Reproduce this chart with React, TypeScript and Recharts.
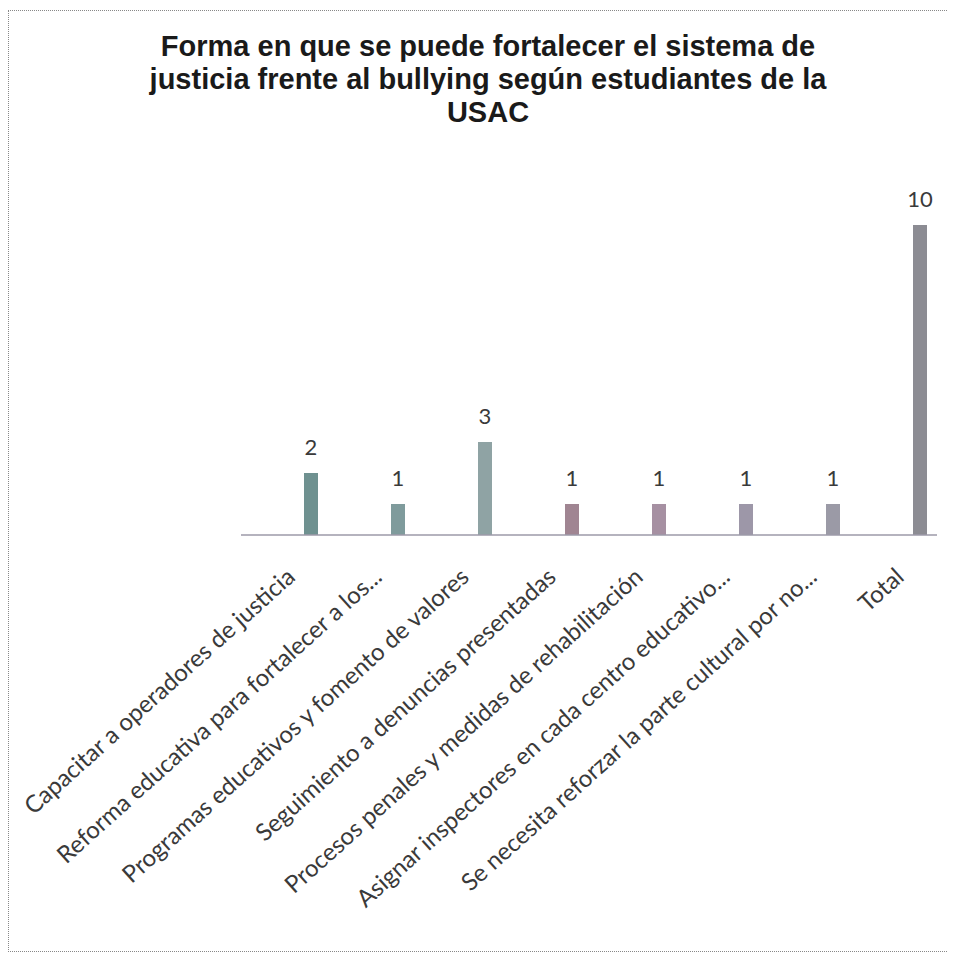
import React from 'react';
import { BarChart, Bar, XAxis, YAxis, Cell, LabelList } from 'recharts';

const categories = [
  'Capacitar a operadores de justicia',
  'Reforma educativa para fortalecer a los...',
  'Programas educativos y fomento de valores',
  'Seguimiento a denuncias presentadas',
  'Procesos penales y medidas de rehabilitación',
  'Asignar inspectores en cada centro educativo...',
  'Se necesita reforzar la parte cultural por no...',
  'Total',
];

const counts = [2, 1, 3, 1, 1, 1, 1, 10];

const barColors = ['#6f9190', '#7f9b9c', '#8fa3a4', '#a08592', '#a690a2', '#9d97a8', '#9b9aa6', '#8c8c93'];

const data = categories.map((name, i) => ({ name, value: counts[i] }));

const labelFont = 'Lato, "Open Sans", sans-serif';

const AngledTick = (props: any) => {
  const { x, y, payload } = props;
  return (
    <g transform={`translate(${x + 12},${y + 36})`}>
      <text
        transform="rotate(-42)"
        textAnchor="end"
        fontSize={24}
        fontFamily={labelFont}
        fill="#3a3a3a"
      >
        {payload.value}
      </text>
    </g>
  );
};

const App = () => {
  return (
    <div style={{ width: 948, paddingTop: 2, overflow: 'hidden' }}>
      <div
        style={{
          position: 'relative',
          width: 980,
          height: 940,
          borderTop: '1px dotted #888',
          borderLeft: '1px dotted #888',
          borderBottom: '1px dotted #888',
        }}
      >
        <div
          style={{
            position: 'absolute',
            left: 0,
            width: 958,
            top: 19,
            textAlign: 'center',
            fontFamily: '"Liberation Sans", Arial, sans-serif',
            fontWeight: 'bold',
            fontSize: 29,
            lineHeight: '33px',
            color: '#1a1a1a',
          }}
        >
          Forma en que se puede fortalecer el sistema de
          <br />
          justicia frente al bullying según estudiantes de la
          <br />
          USAC
        </div>
        <BarChart
          width={946}
          height={940}
          data={data}
          margin={{ top: 152, right: 18, left: 232, bottom: 0 }}
          barSize={14}
          barGap={39}
        >
          <XAxis
            dataKey="name"
            interval={0}
            height={416}
            tickLine={false}
            axisLine={{ stroke: '#9c9aa8', strokeWidth: 1.5 }}
            tick={<AngledTick />}
          />
          <YAxis hide domain={[0, 12]} />
          <Bar dataKey="blank" isAnimationActive={false} />
          <Bar dataKey="value" isAnimationActive={false}>
            {data.map((d, i) => (
              <Cell key={d.name} fill={barColors[i]} />
            ))}
            <LabelList
              dataKey="value"
              position="top"
              offset={18}
              fontSize={22}
              fontFamily={labelFont}
              fill="#3a3a3a"
            />
          </Bar>
        </BarChart>
      </div>
    </div>
  );
};

export default App;
